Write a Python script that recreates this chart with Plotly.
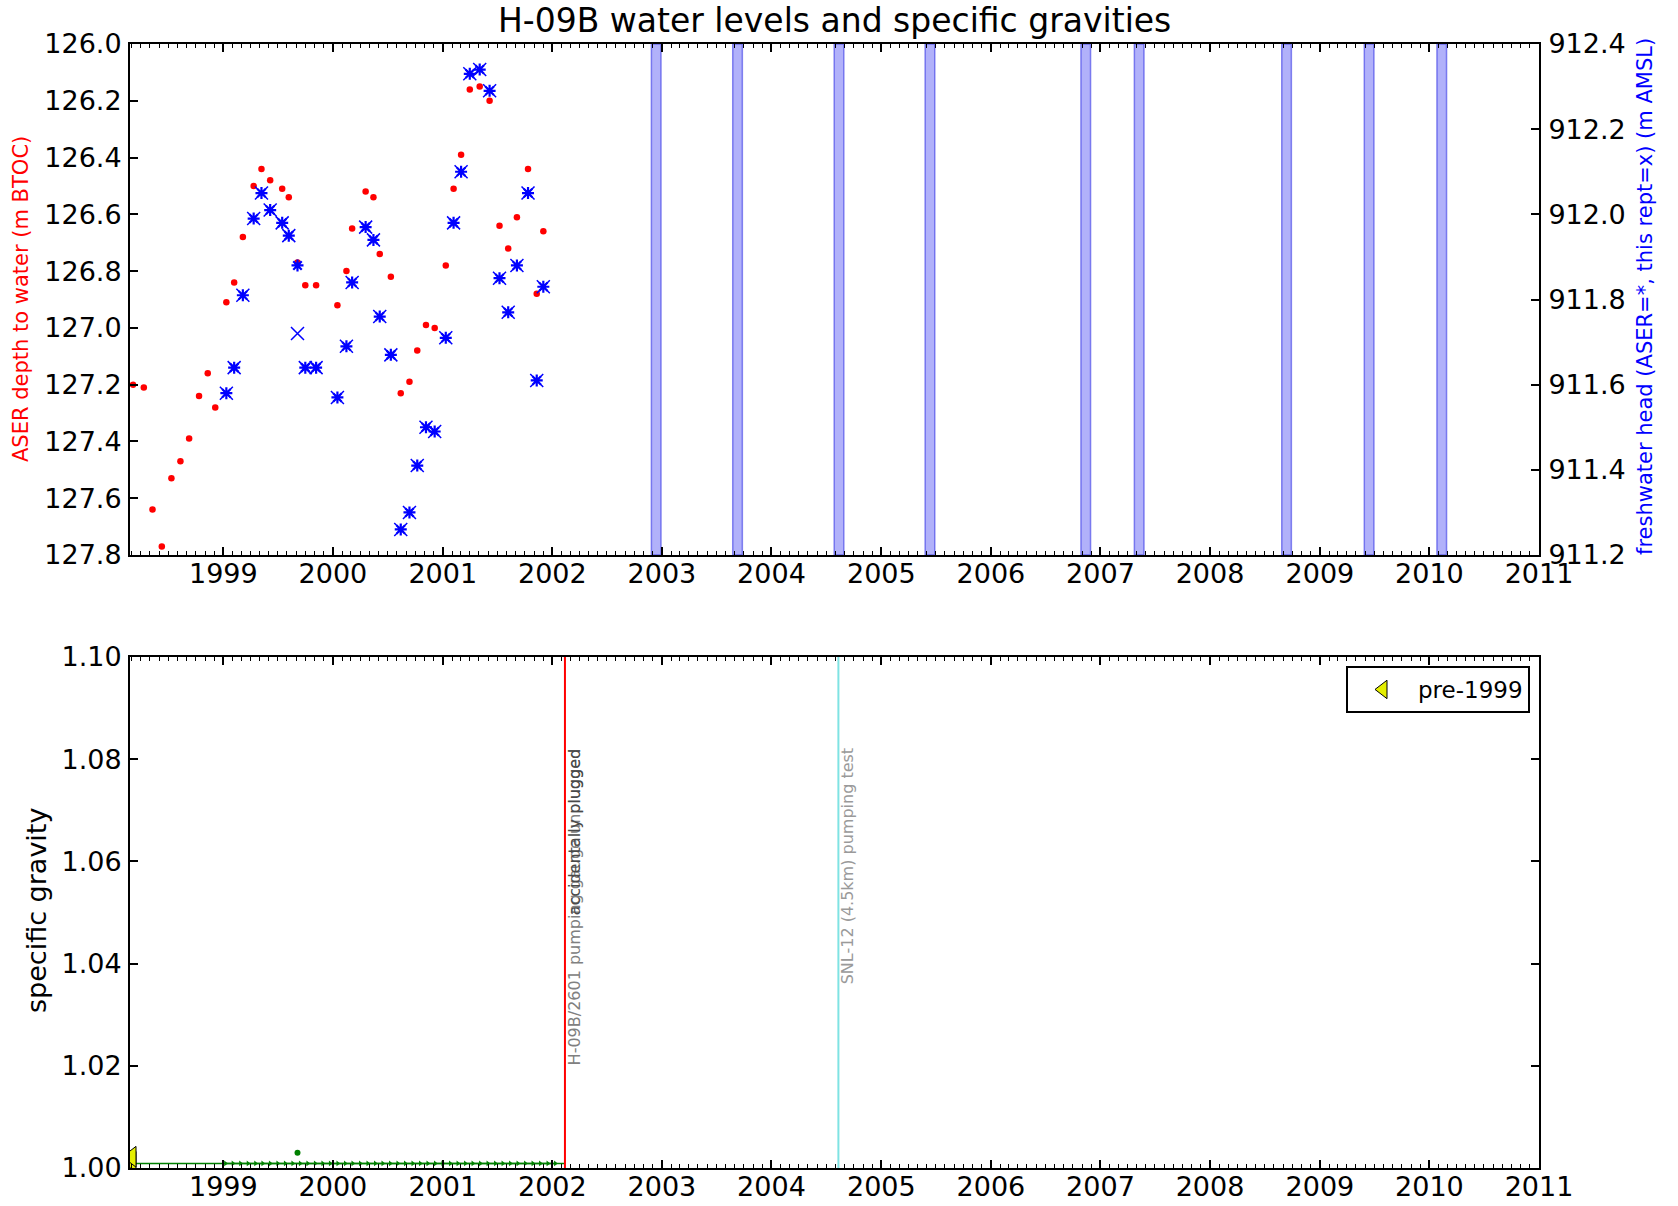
import plotly.graph_objects as go

# ---------------- data ----------------
# ASER depth to water (m below top of casing)
depth_dates = [
    "1998-03-06", "1998-04-11", "1998-05-10", "1998-06-10", "1998-07-12", "1998-08-11",
    "1998-09-09", "1998-10-12", "1998-11-10", "1998-12-05", "1999-01-11", "1999-02-06",
    "1999-03-07", "1999-04-12", "1999-05-08", "1999-06-06", "1999-07-16", "1999-08-07",
    "1999-09-05", "1999-10-01", "1999-11-06", "2000-01-16", "2000-02-15", "2000-03-05",
    "2000-04-19", "2000-05-15", "2000-06-05", "2000-07-12", "2000-08-14", "2000-09-12",
    "2000-10-08", "2000-11-06", "2000-12-05", "2001-01-11", "2001-02-06", "2001-03-03",
    "2001-04-01", "2001-05-04", "2001-06-06", "2001-07-09", "2001-08-07", "2001-09-05",
    "2001-10-12", "2001-11-10", "2001-12-02",
]
depth_values = [
    127.20, 127.21, 127.64, 127.77, 127.53, 127.47,
    127.39, 127.24, 127.16, 127.28, 126.91, 126.84,
    126.68, 126.50, 126.44, 126.48, 126.51, 126.54,
    126.77, 126.85, 126.85, 126.92, 126.80, 126.65,
    126.52, 126.54, 126.74, 126.82, 127.23, 127.19,
    127.08, 126.99, 127.00, 126.78, 126.51, 126.39,
    126.16, 126.15, 126.20, 126.64, 126.72, 126.61,
    126.44, 126.88, 126.66,
]

# freshwater head (m AMSL): ASER values (*) and this report (x)
head_dates = [
    "1999-01-11", "1999-02-06", "1999-03-07", "1999-04-12", "1999-05-08", "1999-06-06",
    "1999-07-16", "1999-08-07", "1999-09-05", "1999-10-01", "1999-11-06", "2000-01-16",
    "2000-02-15", "2000-03-05", "2000-04-19", "2000-05-15", "2000-06-05", "2000-07-12",
    "2000-08-14", "2000-09-12", "2000-10-08", "2000-11-06", "2000-12-05", "2001-01-11",
    "2001-02-06", "2001-03-03", "2001-04-01", "2001-05-04", "2001-06-06", "2001-07-09",
    "2001-08-07", "2001-09-05", "2001-10-12", "2001-11-10", "2001-12-02",
]
aser_head = [
    911.58, 911.64, 911.81, 911.99, 912.05, 912.01,
    911.98, 911.95, 911.88, 911.64, 911.64, 911.57,
    911.69, 911.84, 911.97, 911.94, 911.76, 911.67,
    911.26, 911.30, 911.41, 911.50, 911.49, 911.71,
    911.98, 912.10, 912.33, 912.34, 912.29, 911.85,
    911.77, 911.88, 912.05, 911.61, 911.83,
]
rept_head = [
    911.58, 911.64, 911.81, 911.99, 912.05, 912.01,
    911.98, 911.95, 911.72, 911.64, 911.64, 911.57,
    911.69, 911.84, 911.97, 911.94, 911.76, 911.67,
    911.26, 911.30, 911.41, 911.50, 911.49, 911.71,
    911.98, 912.10, 912.33, 912.34, 912.29, 911.85,
    911.77, 911.88, 912.05, 911.61, 911.83,
]

# periods without level data (shaded)
gap_starts = ["2002-11-27", "2003-08-25", "2004-07-28", "2005-05-27", "2006-10-28",
              "2007-04-24", "2008-08-27", "2009-05-29", "2010-01-26"]
gap_ends = ["2002-12-29", "2003-09-26", "2004-08-29", "2005-06-28", "2006-11-29",
            "2007-05-26", "2008-09-28", "2009-06-30", "2010-02-27"]

# specific gravity
sg_line_dates = ["1998-02-01", "1998-06-01", "1998-10-01", "1999-01-01", "2002-02-12"]
sg_line_values = [1.0009, 1.0009, 1.0009, 1.0009, 1.0009]
sg_dates = [
    "1999-01-08", "1999-02-02", "1999-02-27", "1999-03-24", "1999-04-18", "1999-05-12",
    "1999-06-06", "1999-07-01", "1999-07-26", "1999-08-20", "1999-09-14", "1999-10-09",
    "1999-11-03", "1999-11-28", "1999-12-23", "2000-01-17", "2000-02-11", "2000-03-07",
    "2000-04-01", "2000-04-26", "2000-05-21", "2000-06-15", "2000-07-10", "2000-08-04",
    "2000-08-29", "2000-09-23", "2000-10-18", "2000-11-12", "2000-12-07", "2001-01-01",
    "2001-01-26", "2001-02-20", "2001-03-17", "2001-04-11", "2001-05-06", "2001-05-31",
    "2001-06-25", "2001-07-20", "2001-08-14", "2001-09-08", "2001-10-03", "2001-10-28",
    "2001-11-22", "2001-12-17", "2002-01-11",
]
sg_values = [
    1.0009, 1.0009, 1.0009, 1.0009, 1.0009, 1.0009,
    1.0009, 1.0009, 1.0009, 1.0009, 1.0009, 1.0009,
    1.0009, 1.0009, 1.0009, 1.0009, 1.0009, 1.0009,
    1.0009, 1.0009, 1.0009, 1.0009, 1.0009, 1.0009,
    1.0009, 1.0009, 1.0009, 1.0009, 1.0009, 1.0009,
    1.0009, 1.0009, 1.0009, 1.0009, 1.0009, 1.0009,
    1.0009, 1.0009, 1.0009, 1.0009, 1.0009, 1.0009,
    1.0009, 1.0009, 1.0009,
]
sg_spot_dates = ["1999-09-05"]
sg_spot_values = [1.003]
pre1999_dates = ["1998-03-01", "1998-03-01"]
pre1999_values = [1.0012, 1.0022]

# events
events = [
    ("2002-02-12", "red", "H-09B/2601 pumping gauge unplugged", "#808080"),
    ("2002-02-12", "red", "accidentally plugged", "#4a4a4a"),
    ("2004-08-11", "#7fe3e3", "SNL-12 (4.5km) pumping test", "#9a9a9a"),
]

# ---------------- figure ----------------
FONT = "DejaVu Sans"
W, H = 1678, 1206
x_dom = [130 / W, 1539 / W]
top_dom = [1 - 555 / H, 1 - 44 / H]
bot_dom = [1 - 1168 / H, 1 - 657 / H]
x_range = ["1998-02-24", "2011-01-01"]

fig = go.Figure()

fig.add_trace(go.Scatter(
    x=depth_dates, y=depth_values, mode="markers", xaxis="x", yaxis="y",
    marker=dict(color="red", size=6.5), showlegend=False, name="ASER depth"))
fig.add_trace(go.Scatter(
    x=head_dates, y=rept_head, mode="markers", xaxis="x", yaxis="y2",
    marker=dict(symbol="x-thin-open", size=13, color="blue", line=dict(width=1.5, color="blue")),
    showlegend=False, name="this rept"))
fig.add_trace(go.Scatter(
    x=head_dates, y=aser_head, mode="markers", xaxis="x", yaxis="y2",
    marker=dict(symbol="asterisk-open", size=10, color="blue", line=dict(width=2.2, color="blue")),
    showlegend=False, name="ASER head"))

fig.add_trace(go.Scatter(
    x=sg_line_dates, y=sg_line_values, mode="lines", xaxis="x2", yaxis="y3",
    line=dict(color="green", width=1.5), showlegend=False, name="SG"))
fig.add_trace(go.Scatter(
    x=sg_dates, y=sg_values, mode="lines+markers", xaxis="x2", yaxis="y3",
    line=dict(color="green", width=1.5),
    marker=dict(symbol="triangle-right", size=5, color="green"),
    showlegend=False, name="SG"))
fig.add_trace(go.Scatter(
    x=sg_spot_dates, y=sg_spot_values, mode="markers", xaxis="x2", yaxis="y3",
    marker=dict(color="green", size=6), showlegend=False, name="SG spot"))
fig.add_trace(go.Scatter(
    x=pre1999_dates, y=pre1999_values, mode="markers", xaxis="x2", yaxis="y3",
    marker=dict(symbol="triangle-left", size=18, color="#e4ee00", line=dict(color="black", width=1)),
    showlegend=True, name="pre-1999"))

shapes = []
for s, e in zip(gap_starts, gap_ends):
    shapes.append(dict(type="rect", xref="x", yref="y domain", x0=s, x1=e, y0=0, y1=1,
                       fillcolor="rgba(40,40,240,0.36)", line=dict(color="rgba(60,60,230,0.6)", width=1.5),
                       layer="below"))

annotations = [
    dict(text="H-09B water levels and specific gravities", xref="paper", yref="paper",
         x=(x_dom[0] + x_dom[1]) / 2, y=1 - 20 / H, xanchor="center", yanchor="middle",
         showarrow=False, font=dict(family=FONT, size=33, color="black")),
    dict(text="ASER depth to water (m BTOC)", xref="paper", yref="paper",
         x=21 / W, y=1 - 299 / H, xanchor="center", yanchor="middle", textangle=-90,
         showarrow=False, font=dict(family=FONT, size=21, color="red")),
    dict(text="freshwater head (ASER=*, this rept=x) (m AMSL)", xref="paper", yref="paper",
         x=1645 / W, y=1 - 297 / H, xanchor="center", yanchor="middle", textangle=-90,
         showarrow=False, font=dict(family=FONT, size=21, color="blue")),
    dict(text="specific gravity", xref="paper", yref="paper",
         x=37 / W, y=1 - 911 / H, xanchor="center", yanchor="middle", textangle=-90,
         showarrow=False, font=dict(family=FONT, size=27, color="black")),
]

drawn_lines = set()
for date, lcolor, label, tcolor in events:
    if date not in drawn_lines:
        shapes.append(dict(type="line", xref="x2", yref="y3 domain", x0=date, x1=date, y0=0, y1=1,
                           line=dict(color=lcolor, width=2)))
        drawn_lines.add(date)
    annotations.append(dict(text=label, xref="x2", yref="y3", x=date, y=1.0825,
                            xanchor="left", yanchor="top", textangle=-90, showarrow=False,
                            xshift=-2,
                            font=dict(family=FONT, size=16, color=tcolor)))

axis_common = dict(showline=True, linecolor="black", linewidth=2, ticks="inside",
                   tickcolor="black", showgrid=False, zeroline=False, automargin=False,
                   tickfont=dict(family=FONT, size=27, color="black"))
x_common = dict(axis_common, range=x_range, type="date", tick0="1999-01-01", dtick="M12",
                tickformat="%Y", ticklen=8, tickwidth=1.5, mirror="ticks", domain=x_dom,
                ticklabelstandoff=-6,
                minor=dict(ticks="inside", ticklen=4, dtick="M1", tickcolor="black", tickwidth=1))

fig.update_layout(
    width=W, height=H, margin=dict(l=0, r=0, t=0, b=0, autoexpand=False),
    paper_bgcolor="white", plot_bgcolor="white",
    font=dict(family=FONT, color="black"),
    xaxis=dict(x_common, anchor="y"),
    yaxis=dict(axis_common, domain=top_dom, anchor="x", range=[127.8, 126.0], tick0=126.0,
               dtick=0.2, tickformat=".1f", ticklen=8, tickwidth=1.5, ticklabelstandoff=1),
    yaxis2=dict(axis_common, overlaying="y", side="right", anchor="x", range=[911.2, 912.4],
                tick0=911.2, dtick=0.2, tickformat=".1f", ticklen=8, tickwidth=1.5,
                ticklabelstandoff=2),
    xaxis2=dict(x_common, anchor="y3"),
    yaxis3=dict(axis_common, domain=bot_dom, anchor="x2", range=[1.0, 1.1], tick0=1.0,
                dtick=0.02, tickformat=".2f", ticklen=8, tickwidth=1.5, mirror="ticks",
                ticklabelstandoff=1),
    shapes=shapes,
    annotations=annotations,
    legend=dict(x=1530 / W, y=1 - 666 / H, xanchor="right", yanchor="top",
                bordercolor="black", borderwidth=2, bgcolor="white", itemwidth=60,
                font=dict(family=FONT, size=23, color="black")),
)

fig.write_html("out.html")
